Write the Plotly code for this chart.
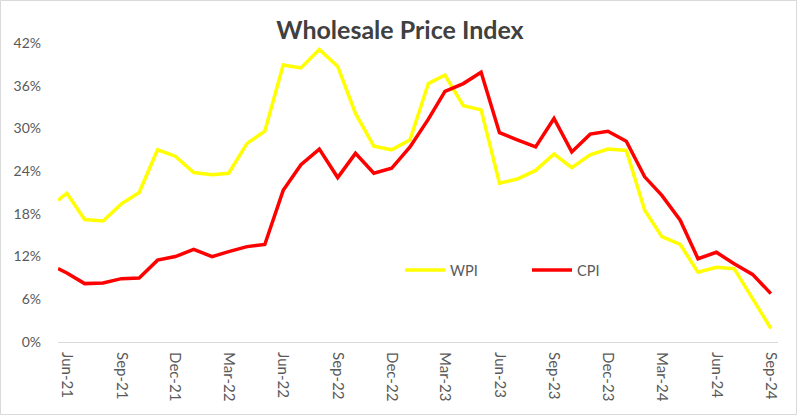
import plotly.graph_objects as go

dates = ["2021-05-17"] + [f"{y}-{m:02d}-01" for y, m in
         [(2021, m) for m in range(6, 13)] + [(2022, m) for m in range(1, 13)] +
         [(2023, m) for m in range(1, 13)] + [(2024, m) for m in range(1, 10)]]

wpi = [19.9, 20.9, 17.2, 17.0, 19.4, 21.0, 27.0, 26.1, 23.8, 23.5, 23.7, 27.9, 29.6,
       38.9, 38.5, 41.1, 38.7, 32.1, 27.5, 27.0, 28.4, 36.3, 37.5, 33.2, 32.6,
       22.3, 22.9, 24.1, 26.4, 24.5, 26.3, 27.1, 26.9, 18.5, 14.8, 13.7, 9.8,
       10.5, 10.3, 6.1, 1.9]
cpi = [10.3, 9.7, 8.2, 8.3, 8.9, 9.0, 11.5, 12.0, 13.0, 12.0, 12.7, 13.4, 13.7,
       21.3, 24.9, 27.1, 23.1, 26.5, 23.7, 24.4, 27.4, 31.3, 35.2, 36.3, 37.9,
       29.4, 28.4, 27.4, 31.4, 26.7, 29.2, 29.6, 28.2, 23.2, 20.6, 17.1, 11.7,
       12.6, 11.0, 9.5, 6.8]

tick_vals = [f"{y}-{m:02d}-01" for y, m in
             [(2021, 6), (2021, 9), (2021, 12), (2022, 3), (2022, 6), (2022, 9), (2022, 12),
              (2023, 3), (2023, 6), (2023, 9), (2023, 12), (2024, 3), (2024, 6), (2024, 9)]]
tick_text = ["Jun-21", "Sep-21", "Dec-21", "Mar-22", "Jun-22", "Sep-22", "Dec-22",
             "Mar-23", "Jun-23", "Sep-23", "Dec-23", "Mar-24", "Jun-24", "Sep-24"]
y_ticks = [0, 6, 12, 18, 24, 30, 36, 42]

W, H = 800, 418
ml, mr, mt, mb = 58, 22, 43, 76
pw, ph = W - ml - mr, H - mt - mb

fig = go.Figure()
fig.add_trace(go.Scatter(x=dates, y=wpi, name="WPI", mode="lines",
                         line=dict(color="#FFFF00", width=3.5)))
fig.add_trace(go.Scatter(x=dates, y=cpi, name="CPI", mode="lines",
                         line=dict(color="#FF0000", width=3.5)))

font = "Lato, 'Open Sans', sans-serif"
fig.update_layout(
    width=W, height=H,
    margin=dict(l=ml, r=mr, t=mt, b=mb),
    paper_bgcolor="white", plot_bgcolor="white",
    title=dict(text="<b>Wholesale Price Index</b>", x=0.5, xanchor="center",
               y=1 - 30 / H, yanchor="middle",
               font=dict(family=font, size=25, color="#404040")),
    showlegend=True,
    legend=dict(orientation="h", x=(400 - ml) / pw, xanchor="left",
                y=(H - mb - 270) / ph, yanchor="middle",
                bgcolor="rgba(0,0,0,0)", entrywidth=72, entrywidthmode="pixels",
                itemwidth=40, font=dict(family=font, size=14.5, color="#595959")),
    xaxis=dict(type="date", range=["2021-05-17", "2024-09-13"],
               tickmode="array", tickvals=tick_vals, ticktext=tick_text,
               tickangle=90, showgrid=False, zeroline=False,
               showline=True, linecolor="#D9D9D9", linewidth=1.2, ticks="",
               ticklabelstandoff=6,
               tickfont=dict(family=font, size=15, color="#595959")),
    yaxis=dict(range=[0, 42], tickmode="array", tickvals=y_ticks,
               ticktext=[f"{v}%" for v in y_ticks], showgrid=False,
               zeroline=False, showline=False, ticks="", ticklabelstandoff=16,
               tickfont=dict(family=font, size=14, color="#595959")),
    shapes=[dict(type="rect", xref="paper", yref="paper",
                 x0=(0.5 - ml) / pw, x1=(W - 3.5 - ml) / pw,
                 y0=-(mb - 3.5) / ph, y1=1 + (mt - 0.5) / ph,
                 line=dict(color="#D9D9D9", width=1), layer="below")],
)

fig.write_html("out.html")
